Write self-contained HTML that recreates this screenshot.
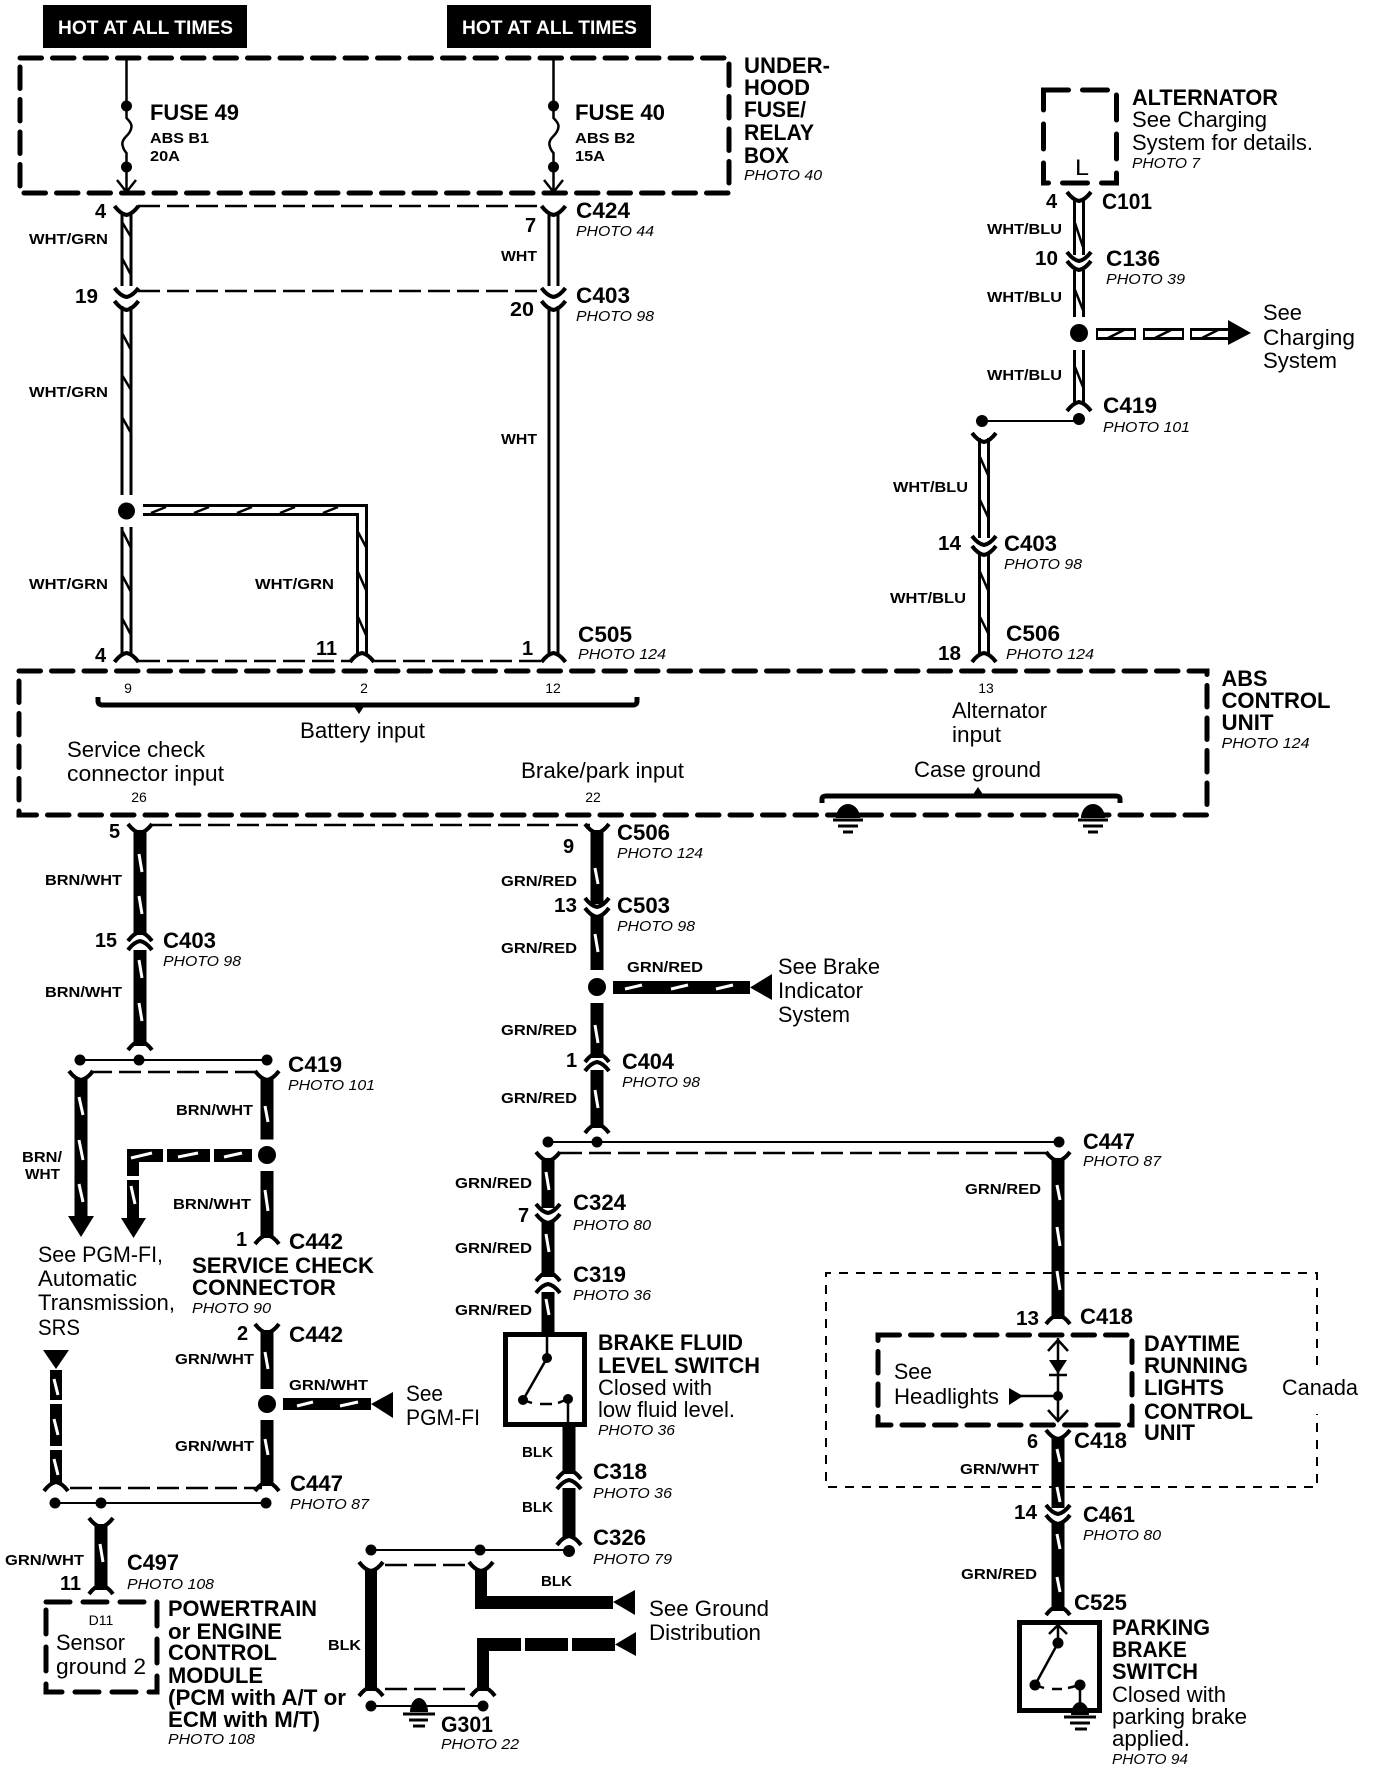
<!DOCTYPE html>
<html><head><meta charset="utf-8"><style>
html,body{margin:0;padding:0;background:#fff}
svg{display:block}
text{font-family:"Liberation Sans",sans-serif;fill:#000}
.b{font-weight:700;font-size:22px}
.r{font-size:22px}
.p{font-style:italic;font-size:15px}
.l{font-weight:700;font-size:15px}
.n{font-weight:700;font-size:20px}
.s{font-size:14px;text-anchor:middle}
.h{font-weight:700;font-size:19px;fill:#fff}
.f,.q,.db,.th,.dt,.g,.sl,.hw{fill:none;stroke:#000}
.f{stroke-width:4}
.q{stroke-width:2.5}
.db{stroke-width:5;stroke-dasharray:21.500 11;stroke-linecap:round}
.th{stroke-width:2}
.dt{stroke-width:2.500;stroke-dasharray:22 7}
.sl{stroke:#fff;stroke-width:3}
.w1{fill:none;stroke:#000;stroke-width:12}
.w2{fill:none;stroke:#fff;stroke-width:6}
.w3{fill:none;stroke:#000;stroke-width:13}
</style></head><body>
<svg xmlns="http://www.w3.org/2000/svg" width="1376" height="1772" viewBox="0 0 1376 1772">
<defs>
<path id="y" class="f" d="M-12 0Q-6 8 0 9Q6 8 12 0"/>
<path id="a" class="f" d="M-12 9Q-6 1 0 0Q6 1 12 9"/>
</defs>

<!-- Hot at all times -->
<rect x="43" y="5" width="204" height="43"/>
<rect x="447" y="5" width="204" height="43"/>
<text class="h" x="58" y="34" textLength="175" lengthAdjust="spacingAndGlyphs">HOT AT ALL TIMES</text>
<text class="h" x="462" y="34" textLength="175" lengthAdjust="spacingAndGlyphs">HOT AT ALL TIMES</text>

<!-- Under-hood box -->
<rect class="db" x="20" y="58" width="709" height="135"/>
<path class="q" d="M126.500 58V118q5 5 5 8q0 5-5 10q-5 5-4 9q1 5 4 8V191M117 180l9.500 12 9.500-12"/>
<path class="q" d="M553.500 58V118q5 5 5 8q0 5-5 10q-5 5-4 9q1 5 4 8V191M544 180l9.500 12 9.500-12"/>
<circle cx="126.500" cy="106" r="5.500"/><circle cx="126.500" cy="167" r="5.500"/>
<circle cx="553.500" cy="106" r="5.500"/><circle cx="553.500" cy="167" r="5.500"/>
<text class="b" x="150" y="120" textLength="89" lengthAdjust="spacingAndGlyphs">FUSE 49</text>
<text class="l" x="150" y="143" textLength="59" lengthAdjust="spacingAndGlyphs">ABS B1</text>
<text class="l" x="150" y="161" textLength="30" lengthAdjust="spacingAndGlyphs">20A</text>
<text class="b" x="575" y="120" textLength="90" lengthAdjust="spacingAndGlyphs">FUSE 40</text>
<text class="l" x="575" y="143" textLength="60" lengthAdjust="spacingAndGlyphs">ABS B2</text>
<text class="l" x="575" y="161" textLength="30" lengthAdjust="spacingAndGlyphs">15A</text>
<text class="b" x="744" y="73" textLength="86" lengthAdjust="spacingAndGlyphs">UNDER-</text>
<text class="b" x="744" y="95" textLength="66" lengthAdjust="spacingAndGlyphs">HOOD</text>
<text class="b" x="744" y="117" textLength="62" lengthAdjust="spacingAndGlyphs">FUSE/</text>
<text class="b" x="744" y="140" textLength="70" lengthAdjust="spacingAndGlyphs">RELAY</text>
<text class="b" x="744" y="163" textLength="45" lengthAdjust="spacingAndGlyphs">BOX</text>
<text class="p" x="744" y="180" textLength="78" lengthAdjust="spacingAndGlyphs">PHOTO 40</text>

<!-- WHT/GRN wire & branch -->
<path class="w1" d="M126.500 212V286M126.500 306V495M126.500 527V655"/>
<path class="w2" d="M126.500 212V286M126.500 306V495M126.500 527V655"/>
<path class="q" d="M122 222L131 237M122 258L131 275M122 333L131 350M122 375L131 390M122 417L131 433M122 530L131 548M122 575L131 592M122 618L131 635"/>
<path class="w1" d="M143 510H362V655"/>
<path class="w2" d="M143 510H362V655"/>
<path class="q" d="M151 513L166 507M194 513L209 507M237 513L252 507M280 513L295 507M323 513L338 507M358 532L366 547M358 572L366 590M358 617L366 635"/>
<circle cx="126.500" cy="511" r="8.500"/>
<!-- WHT wire -->
<path class="w1" d="M553.500 212V286M553.500 306V655"/>
<path class="w2" d="M553.500 212V286M553.500 306V655"/>
<use href="#y" x="126.500" y="206"/><use href="#y" x="553.500" y="206"/>
<use href="#y" x="126.500" y="288"/><use href="#y" x="553.500" y="288"/>
<use href="#y" x="126.500" y="301"/><use href="#y" x="553.500" y="301"/>
<use href="#a" x="126.500" y="653"/><use href="#a" x="362" y="653"/><use href="#a" x="553.500" y="653"/>
<path class="dt" d="M138 206H542M138 291H543M138 661H350M374 661H542"/>
<text class="n" x="95" y="218">4</text>
<text class="n" x="75" y="303" textLength="23" lengthAdjust="spacingAndGlyphs">19</text>
<text class="n" x="525" y="232">7</text>
<text class="n" x="510" y="316" textLength="24" lengthAdjust="spacingAndGlyphs">20</text>
<text class="b" x="576" y="218" textLength="54" lengthAdjust="spacingAndGlyphs">C424</text>
<text class="p" x="576" y="236" textLength="78" lengthAdjust="spacingAndGlyphs">PHOTO 44</text>
<text class="b" x="576" y="303" textLength="54" lengthAdjust="spacingAndGlyphs">C403</text>
<text class="p" x="576" y="321" textLength="78" lengthAdjust="spacingAndGlyphs">PHOTO 98</text>
<text class="l" x="29" y="244" textLength="79" lengthAdjust="spacingAndGlyphs">WHT/GRN</text>
<text class="l" x="29" y="397" textLength="79" lengthAdjust="spacingAndGlyphs">WHT/GRN</text>
<text class="l" x="29" y="589" textLength="79" lengthAdjust="spacingAndGlyphs">WHT/GRN</text>
<text class="l" x="255" y="589" textLength="79" lengthAdjust="spacingAndGlyphs">WHT/GRN</text>
<text class="l" x="501" y="261" textLength="36" lengthAdjust="spacingAndGlyphs">WHT</text>
<text class="l" x="501" y="444" textLength="36" lengthAdjust="spacingAndGlyphs">WHT</text>
<text class="n" x="95" y="662">4</text>
<text class="n" x="316" y="655" font-size="21" textLength="21" lengthAdjust="spacingAndGlyphs">11</text>
<text class="n" x="522" y="655">1</text>
<text class="b" x="578" y="642" textLength="54" lengthAdjust="spacingAndGlyphs">C505</text>
<text class="p" x="578" y="659" textLength="88" lengthAdjust="spacingAndGlyphs">PHOTO 124</text>

<!-- Alternator -->
<rect class="db" x="1043.500" y="90" width="73" height="93" style="stroke-dasharray:25 14"/>
<text class="r" x="1075" y="175" textLength="14" lengthAdjust="spacingAndGlyphs">L</text>
<text class="b" x="1132" y="105" textLength="146" lengthAdjust="spacingAndGlyphs">ALTERNATOR</text>
<text class="r" x="1132" y="127" textLength="135" lengthAdjust="spacingAndGlyphs">See Charging</text>
<text class="r" x="1132" y="150" textLength="181" lengthAdjust="spacingAndGlyphs">System for details.</text>
<text class="p" x="1132" y="168" textLength="68" lengthAdjust="spacingAndGlyphs">PHOTO 7</text>
<path class="w1" d="M1079 198V255M1079 270V317M1079 350V405"/>
<path class="w2" d="M1079 198V255M1079 270V317M1079 350V405"/>
<path class="q" d="M1075 223L1083 247M1075 290L1083 310M1075 367L1083 387"/>
<use href="#y" x="1079" y="192"/><use href="#y" x="1079" y="252"/><use href="#y" x="1079" y="261"/><use href="#a" x="1079" y="402"/>
<circle cx="1079" cy="333" r="9"/>
<circle cx="1079" cy="419" r="6"/><circle cx="982" cy="421" r="6"/>
<path class="th" d="M982 421H1079"/>
<path d="M1096 328H1136V340H1096ZM1143 328H1184V340H1143ZM1190 328H1228V340H1190Z"/>
<path d="M1098 331H1134V337H1098ZM1145 331H1182V337H1145ZM1192 331H1228V337H1192Z" fill="#fff"/>
<path class="q" d="M1108 338L1124 330M1155 338L1171 330M1202 338L1218 330"/>
<path d="M1228 320L1251 333L1228 345Z"/>
<text class="n" x="1046" y="208">4</text>
<text class="n" x="1035" y="265" textLength="23" lengthAdjust="spacingAndGlyphs">10</text>
<text class="b" x="1102" y="209" textLength="50" lengthAdjust="spacingAndGlyphs">C101</text>
<text class="b" x="1106" y="266" textLength="54" lengthAdjust="spacingAndGlyphs">C136</text>
<text class="p" x="1106" y="284" textLength="79" lengthAdjust="spacingAndGlyphs">PHOTO 39</text>
<text class="b" x="1103" y="413" textLength="54" lengthAdjust="spacingAndGlyphs">C419</text>
<text class="p" x="1103" y="432" textLength="87" lengthAdjust="spacingAndGlyphs">PHOTO 101</text>
<text class="l" x="987" y="234" textLength="75" lengthAdjust="spacingAndGlyphs">WHT/BLU</text>
<text class="l" x="987" y="302" textLength="75" lengthAdjust="spacingAndGlyphs">WHT/BLU</text>
<text class="l" x="987" y="380" textLength="75" lengthAdjust="spacingAndGlyphs">WHT/BLU</text>
<text class="r" x="1263" y="320" textLength="39" lengthAdjust="spacingAndGlyphs">See</text>
<text class="r" x="1263" y="345" textLength="92" lengthAdjust="spacingAndGlyphs">Charging</text>
<text class="r" x="1263" y="368" textLength="74" lengthAdjust="spacingAndGlyphs">System</text>
<path class="w1" d="M984 438V538M984 552V655"/>
<path class="w2" d="M984 438V538M984 552V655"/>
<path class="q" d="M980 457L988 475M980 500L988 517M980 572L988 590M980 617L988 633"/>
<use href="#y" x="984" y="433"/><use href="#y" x="984" y="536"/><use href="#y" x="984" y="546"/><use href="#a" x="984" y="653"/>
<text class="l" x="893" y="492" textLength="75" lengthAdjust="spacingAndGlyphs">WHT/BLU</text>
<text class="l" x="890" y="603" textLength="76" lengthAdjust="spacingAndGlyphs">WHT/BLU</text>
<text class="n" x="938" y="550" textLength="23" lengthAdjust="spacingAndGlyphs">14</text>
<text class="n" x="938" y="660" textLength="23" lengthAdjust="spacingAndGlyphs">18</text>
<text class="b" x="1004" y="551" textLength="53" lengthAdjust="spacingAndGlyphs">C403</text>
<text class="p" x="1004" y="569" textLength="78" lengthAdjust="spacingAndGlyphs">PHOTO 98</text>
<text class="b" x="1006" y="641" textLength="54" lengthAdjust="spacingAndGlyphs">C506</text>
<text class="p" x="1006" y="659" textLength="88" lengthAdjust="spacingAndGlyphs">PHOTO 124</text>

<!-- ABS box -->
<rect class="db" x="19" y="671" width="1188" height="144"/>
<text class="s" x="128" y="693">9</text>
<text class="s" x="364" y="693">2</text>
<text class="s" x="553" y="693">12</text>
<text class="s" x="986" y="693">13</text>
<text class="s" x="139" y="802">26</text>
<text class="s" x="593" y="802">22</text>
<path class="f" d="M98 697V701Q98 705 103 705H633Q637 705 637 701V697" style="stroke-width:5"/>
<path d="M353 705L365 705L359 714Z"/>
<text class="r" x="300" y="738" textLength="125" lengthAdjust="spacingAndGlyphs">Battery input</text>
<text class="r" x="67" y="757" textLength="138" lengthAdjust="spacingAndGlyphs">Service check</text>
<text class="r" x="67" y="781" textLength="157" lengthAdjust="spacingAndGlyphs">connector input</text>
<text class="r" x="521" y="778" textLength="163" lengthAdjust="spacingAndGlyphs">Brake/park input</text>
<text class="r" x="952" y="718" textLength="95" lengthAdjust="spacingAndGlyphs">Alternator</text>
<text class="r" x="952" y="742" textLength="49" lengthAdjust="spacingAndGlyphs">input</text>
<text class="r" x="914" y="777" textLength="127" lengthAdjust="spacingAndGlyphs">Case ground</text>
<path class="f" d="M822 803V799Q822 796 826 796H1116Q1120 796 1120 799V803" style="stroke-width:5"/>
<path d="M972 796L978 787L984 796Z"/>
<path d="M836 818A12 14 0 0 1 860 818Z"/><path d="M1081 818A12 14 0 0 1 1105 818Z"/>
<path class="th" style="stroke-width:3" d="M833 820H863M838 826H858M843 832H853M1078 820H1108M1083 826H1103M1088 832H1098"/>
<text class="b" x="1221.500" y="686" textLength="46" lengthAdjust="spacingAndGlyphs">ABS</text>
<text class="b" x="1221.500" y="708" textLength="109" lengthAdjust="spacingAndGlyphs">CONTROL</text>
<text class="b" x="1221.500" y="730" textLength="52" lengthAdjust="spacingAndGlyphs">UNIT</text>
<text class="p" x="1221.500" y="748" textLength="88" lengthAdjust="spacingAndGlyphs">PHOTO 124</text>

<!-- BRN/WHT -->
<path class="w3" d="M140 830V935M140 950V1046"/>
<path class="sl" d="M139 854L142 872M139 896L142 914M139 960L142 978M139 1003L142 1021"/>
<use href="#y" x="140" y="824"/><use href="#a" x="140" y="932"/><use href="#a" x="140" y="941"/><use href="#a" x="140" y="1041"/>
<path class="dt" d="M150 825H590M90 1072H256"/>
<path class="th" d="M80 1060H267"/>
<circle cx="80" cy="1060" r="5.500"/><circle cx="139" cy="1060" r="5.500"/><circle cx="267" cy="1060" r="5.500"/>
<use href="#y" x="81" y="1071"/><use href="#y" x="267" y="1071"/>
<path class="w3" d="M81 1078V1218M267 1078V1139.500M267 1171V1238"/>
<path d="M68 1216H94L81 1237ZM121 1218H146L133.500 1238Z"/>
<circle cx="267" cy="1155" r="9"/>
<path d="M214 1149H252V1162H214ZM167 1149H210V1162H167ZM127 1149H163V1162H139V1176H127ZM127 1180H139V1218H127Z"/>
<path class="sl" d="M79 1097L83 1115M79 1140L83 1160M79 1184L83 1202M265 1106L268 1122M265 1190L268 1211M224 1157L242 1153M178 1157L198 1153M131 1158L152 1153M131 1186L135 1204"/>
<use href="#a" x="267" y="1235"/>
<text class="n" x="109" y="838">5</text>
<text class="n" x="95" y="947" textLength="22" lengthAdjust="spacingAndGlyphs">15</text>
<text class="b" x="163" y="948" textLength="53" lengthAdjust="spacingAndGlyphs">C403</text>
<text class="p" x="163" y="966" textLength="78" lengthAdjust="spacingAndGlyphs">PHOTO 98</text>
<text class="l" x="45" y="885" textLength="77" lengthAdjust="spacingAndGlyphs">BRN/WHT</text>
<text class="l" x="45" y="997" textLength="77" lengthAdjust="spacingAndGlyphs">BRN/WHT</text>
<text class="b" x="288" y="1072" textLength="54" lengthAdjust="spacingAndGlyphs">C419</text>
<text class="p" x="288" y="1090" textLength="87" lengthAdjust="spacingAndGlyphs">PHOTO 101</text>
<text class="l" x="22" y="1162" textLength="40" lengthAdjust="spacingAndGlyphs">BRN/</text>
<text class="l" x="25" y="1179" textLength="35" lengthAdjust="spacingAndGlyphs">WHT</text>
<text class="l" x="176" y="1115" textLength="77" lengthAdjust="spacingAndGlyphs">BRN/WHT</text>
<text class="l" x="173" y="1209" textLength="78" lengthAdjust="spacingAndGlyphs">BRN/WHT</text>
<text class="r" x="38" y="1262" textLength="125" lengthAdjust="spacingAndGlyphs">See PGM-FI,</text>
<text class="r" x="38" y="1286" textLength="99" lengthAdjust="spacingAndGlyphs">Automatic</text>
<text class="r" x="38" y="1310" textLength="137" lengthAdjust="spacingAndGlyphs">Transmission,</text>
<text class="r" x="38" y="1335" textLength="42" lengthAdjust="spacingAndGlyphs">SRS</text>
<text class="n" x="236" y="1246">1</text>
<text class="b" x="289" y="1249" textLength="54" lengthAdjust="spacingAndGlyphs">C442</text>
<text class="b" x="192" y="1273" textLength="182" lengthAdjust="spacingAndGlyphs">SERVICE CHECK</text>
<text class="b" x="192" y="1295" textLength="144" lengthAdjust="spacingAndGlyphs">CONNECTOR</text>
<text class="p" x="192" y="1313" textLength="79" lengthAdjust="spacingAndGlyphs">PHOTO 90</text>
<text class="n" x="237" y="1340">2</text>
<text class="b" x="289" y="1342" textLength="54" lengthAdjust="spacingAndGlyphs">C442</text>

<!-- GRN/WHT left -->
<use href="#y" x="267" y="1324"/>
<path class="w3" d="M267 1330V1389M267 1420V1486"/>
<circle cx="267" cy="1404" r="9"/>
<use href="#a" x="267" y="1482"/>
<path d="M283 1398H371V1410H283ZM371 1404L393 1392V1418Z"/>
<path class="sl" d="M265 1352L268 1369M265 1439L268 1455M297 1406L313 1402M340 1406L358 1402"/>
<path d="M43 1350H69L56 1369ZM50 1370H62V1400H50ZM50 1404H62V1446H50ZM50 1450H62V1484H50Z"/>
<path class="sl" d="M54 1379L58 1395M54 1419L58 1435M54 1459L58 1475"/>
<use href="#a" x="56" y="1482"/>
<path class="dt" d="M70 1488H262"/>
<path class="th" d="M55 1503H266"/>
<circle cx="55" cy="1503" r="5.500"/><circle cx="101" cy="1503" r="5.500"/><circle cx="266" cy="1503" r="5.500"/>
<use href="#y" x="101" y="1518"/>
<path class="w3" d="M101 1524V1590"/>
<use href="#a" x="101" y="1585"/>
<path class="sl" d="M100 1544L103 1562"/>
<text class="l" x="175" y="1364" textLength="79" lengthAdjust="spacingAndGlyphs">GRN/WHT</text>
<text class="l" x="175" y="1451" textLength="79" lengthAdjust="spacingAndGlyphs">GRN/WHT</text>
<text class="l" x="289" y="1390" textLength="79" lengthAdjust="spacingAndGlyphs">GRN/WHT</text>
<text class="r" x="406" y="1401" textLength="37" lengthAdjust="spacingAndGlyphs">See</text>
<text class="r" x="406" y="1425" textLength="74" lengthAdjust="spacingAndGlyphs">PGM-FI</text>
<text class="b" x="290" y="1491" textLength="53" lengthAdjust="spacingAndGlyphs">C447</text>
<text class="p" x="290" y="1509" textLength="79" lengthAdjust="spacingAndGlyphs">PHOTO 87</text>
<text class="l" x="5" y="1565" textLength="79" lengthAdjust="spacingAndGlyphs">GRN/WHT</text>
<text class="n" x="60" y="1590" textLength="21" lengthAdjust="spacingAndGlyphs">11</text>
<text class="b" x="127" y="1570" textLength="52" lengthAdjust="spacingAndGlyphs">C497</text>
<text class="p" x="127" y="1589" textLength="87" lengthAdjust="spacingAndGlyphs">PHOTO 108</text>
<rect class="db" x="46" y="1602" width="111" height="90" style="stroke-dasharray:24 13"/>
<text class="s" x="101" y="1625">D11</text>
<text class="r" x="56" y="1650" textLength="69" lengthAdjust="spacingAndGlyphs">Sensor</text>
<text class="r" x="56" y="1674" textLength="90" lengthAdjust="spacingAndGlyphs">ground 2</text>
<text class="b" x="168" y="1616" textLength="149" lengthAdjust="spacingAndGlyphs">POWERTRAIN</text>
<text class="b" x="168" y="1639" textLength="114" lengthAdjust="spacingAndGlyphs">or ENGINE</text>
<text class="b" x="168" y="1660" textLength="109" lengthAdjust="spacingAndGlyphs">CONTROL</text>
<text class="b" x="168" y="1683" textLength="95" lengthAdjust="spacingAndGlyphs">MODULE</text>
<text class="b" x="168" y="1705" textLength="178" lengthAdjust="spacingAndGlyphs">(PCM with A/T or</text>
<text class="b" x="168" y="1727" textLength="152" lengthAdjust="spacingAndGlyphs">ECM with M/T)</text>
<text class="p" x="168" y="1744" textLength="87" lengthAdjust="spacingAndGlyphs">PHOTO 108</text>

<!-- GRN/RED center -->
<use href="#y" x="597" y="824"/>
<path class="w3" d="M597 830V904M597 915V970M597 1003V1058M597 1070V1128"/>
<use href="#y" x="597" y="898"/><use href="#y" x="597" y="908"/>
<circle cx="597" cy="987" r="9"/>
<path d="M613 981H750V994H613ZM750 987.500L772 974V1000Z"/>
<path class="sl" d="M595 868L598 884M595 934L598 952M595 1025L598 1043M595 1090L598 1108M625 989L642 985M671 989L688 985M716 989L733 985"/>
<use href="#a" x="597" y="1053"/><use href="#a" x="597" y="1062"/><use href="#a" x="597" y="1124"/>
<text class="n" x="563" y="853">9</text>
<text class="n" x="554" y="912" textLength="23" lengthAdjust="spacingAndGlyphs">13</text>
<text class="n" x="566" y="1067">1</text>
<text class="b" x="617" y="840" textLength="53" lengthAdjust="spacingAndGlyphs">C506</text>
<text class="p" x="617" y="858" textLength="86" lengthAdjust="spacingAndGlyphs">PHOTO 124</text>
<text class="b" x="617" y="913" textLength="53" lengthAdjust="spacingAndGlyphs">C503</text>
<text class="p" x="617" y="931" textLength="78" lengthAdjust="spacingAndGlyphs">PHOTO 98</text>
<text class="b" x="622" y="1069" textLength="52" lengthAdjust="spacingAndGlyphs">C404</text>
<text class="p" x="622" y="1087" textLength="78" lengthAdjust="spacingAndGlyphs">PHOTO 98</text>
<text class="l" x="501" y="886" textLength="76" lengthAdjust="spacingAndGlyphs">GRN/RED</text>
<text class="l" x="501" y="953" textLength="76" lengthAdjust="spacingAndGlyphs">GRN/RED</text>
<text class="l" x="627" y="972" textLength="76" lengthAdjust="spacingAndGlyphs">GRN/RED</text>
<text class="l" x="501" y="1035" textLength="76" lengthAdjust="spacingAndGlyphs">GRN/RED</text>
<text class="l" x="501" y="1103" textLength="76" lengthAdjust="spacingAndGlyphs">GRN/RED</text>
<text class="r" x="778" y="974" textLength="102" lengthAdjust="spacingAndGlyphs">See Brake</text>
<text class="r" x="778" y="998" textLength="85" lengthAdjust="spacingAndGlyphs">Indicator</text>
<text class="r" x="778" y="1022" textLength="72" lengthAdjust="spacingAndGlyphs">System</text>
<path class="th" d="M548 1142H1059"/>
<circle cx="548" cy="1142" r="5.500"/><circle cx="597" cy="1142" r="5.500"/><circle cx="1059" cy="1142" r="5.500"/>
<path class="dt" d="M560 1153H1048"/>

<!-- Brake fluid -->
<use href="#y" x="548" y="1152"/>
<path class="w3" d="M548 1158V1208M548 1222V1277M548 1292V1334"/>
<use href="#y" x="548" y="1204"/><use href="#y" x="548" y="1214"/><use href="#a" x="548" y="1272"/><use href="#a" x="548" y="1284"/>
<path class="sl" d="M546 1172L549 1190M546 1234L549 1252M546 1299L549 1315"/>
<rect x="505.500" y="1334.500" width="79" height="90" fill="#fff" stroke="#000" stroke-width="5"/>
<path class="q" d="M547 1336V1358L523 1400"/>
<path class="q" d="M523 1400L532 1403M540 1404H552M558 1403L568 1399V1428"/>
<circle cx="547" cy="1358" r="5"/><circle cx="523" cy="1400" r="5"/><circle cx="568" cy="1399" r="5"/>
<path class="w3" d="M569 1427V1474M569 1488V1538"/>
<use href="#a" x="569" y="1470"/><use href="#a" x="569" y="1480"/><use href="#a" x="569" y="1536"/>
<circle cx="569" cy="1551" r="6"/>
<path class="th" d="M371 1550H569"/>
<circle cx="371" cy="1550" r="5.500"/><circle cx="480" cy="1550" r="5.500"/>
<text class="l" x="455" y="1188" textLength="77" lengthAdjust="spacingAndGlyphs">GRN/RED</text>
<text class="l" x="455" y="1253" textLength="77" lengthAdjust="spacingAndGlyphs">GRN/RED</text>
<text class="l" x="455" y="1315" textLength="77" lengthAdjust="spacingAndGlyphs">GRN/RED</text>
<text class="n" x="518" y="1222">7</text>
<text class="b" x="573" y="1210" textLength="53" lengthAdjust="spacingAndGlyphs">C324</text>
<text class="p" x="573" y="1230" textLength="78" lengthAdjust="spacingAndGlyphs">PHOTO 80</text>
<text class="b" x="573" y="1282" textLength="53" lengthAdjust="spacingAndGlyphs">C319</text>
<text class="p" x="573" y="1300" textLength="78" lengthAdjust="spacingAndGlyphs">PHOTO 36</text>
<text class="b" x="598" y="1350" textLength="145" lengthAdjust="spacingAndGlyphs">BRAKE FLUID</text>
<text class="b" x="598" y="1373" textLength="162" lengthAdjust="spacingAndGlyphs">LEVEL SWITCH</text>
<text class="r" x="598" y="1395" textLength="114" lengthAdjust="spacingAndGlyphs">Closed with</text>
<text class="r" x="598" y="1417" textLength="137" lengthAdjust="spacingAndGlyphs">low fluid level.</text>
<text class="p" x="598" y="1435" textLength="77" lengthAdjust="spacingAndGlyphs">PHOTO 36</text>
<text class="l" x="522" y="1457" textLength="31" lengthAdjust="spacingAndGlyphs">BLK</text>
<text class="l" x="522" y="1512" textLength="31" lengthAdjust="spacingAndGlyphs">BLK</text>
<text class="b" x="593" y="1479" textLength="54" lengthAdjust="spacingAndGlyphs">C318</text>
<text class="p" x="593" y="1498" textLength="79" lengthAdjust="spacingAndGlyphs">PHOTO 36</text>
<text class="b" x="593" y="1545" textLength="53" lengthAdjust="spacingAndGlyphs">C326</text>
<text class="p" x="593" y="1564" textLength="79" lengthAdjust="spacingAndGlyphs">PHOTO 79</text>

<!-- Ground -->
<use href="#y" x="371" y="1562"/><use href="#y" x="481" y="1562"/>
<path class="dt" d="M385 1565H470M385 1689H470"/>
<path d="M365 1569H377V1691H365ZM475 1569H487V1596H613V1609H475ZM613 1602L635 1590V1615ZM477 1638H521V1651H489V1691H477ZM525 1638H568V1651H525ZM572 1638H615V1651H572ZM615 1644.500L636 1632V1656Z"/>
<use href="#a" x="371" y="1687"/><use href="#a" x="483" y="1687"/>
<path class="th" d="M371 1706H483"/>
<circle cx="371" cy="1706" r="5.500"/><circle cx="483" cy="1706" r="5.500"/>
<path d="M410 1712A9 14 0 0 1 428 1712Z"/>
<path class="th" style="stroke-width:3" d="M403 1714H435M409 1720H428M413 1726H425"/>
<text class="l" x="541" y="1586" textLength="31" lengthAdjust="spacingAndGlyphs">BLK</text>
<text class="l" x="328" y="1650" textLength="33" lengthAdjust="spacingAndGlyphs">BLK</text>
<text class="b" x="441" y="1732" textLength="52" lengthAdjust="spacingAndGlyphs">G301</text>
<text class="p" x="441" y="1749" textLength="78" lengthAdjust="spacingAndGlyphs">PHOTO 22</text>
<text class="r" x="649" y="1616" textLength="120" lengthAdjust="spacingAndGlyphs">See Ground</text>
<text class="r" x="649" y="1640" textLength="112" lengthAdjust="spacingAndGlyphs">Distribution</text>

<!-- Canada -->
<path fill="none" stroke="#000" stroke-width="2" stroke-dasharray="9 8" d="M1317 1365V1273H826V1487H1317V1414"/>
<use href="#y" x="1058" y="1152"/>
<path class="w3" d="M1058 1158V1319M1058 1438V1508M1058 1522V1611"/>
<path class="sl" d="M1057 1185L1060 1200M1057 1227L1060 1246M1057 1271L1060 1290M1057 1449L1060 1462M1057 1487L1060 1502M1057 1534L1060 1549M1057 1577L1060 1592"/>
<use href="#a" x="1058" y="1315"/><use href="#y" x="1058" y="1430"/><use href="#y" x="1058" y="1505"/><use href="#y" x="1058" y="1515"/><use href="#a" x="1058" y="1606"/>
<rect class="db" x="878" y="1335" width="254" height="90"/>
<path class="q" d="M1058 1338V1421M1048 1351L1058 1340L1068 1351M1048 1410L1058 1421L1068 1410M1020 1396H1058M1049 1375H1067"/>
<path d="M1049 1360H1067L1058 1374Z"/>
<circle cx="1058" cy="1396" r="5"/>
<path d="M1009 1388L1023 1396L1009 1405Z"/>
<text class="n" x="1016" y="1325" textLength="23" lengthAdjust="spacingAndGlyphs">13</text>
<text class="b" x="1080" y="1324" textLength="53" lengthAdjust="spacingAndGlyphs">C418</text>
<text class="b" x="1083" y="1149" textLength="52" lengthAdjust="spacingAndGlyphs">C447</text>
<text class="p" x="1083" y="1166" textLength="78" lengthAdjust="spacingAndGlyphs">PHOTO 87</text>
<text class="l" x="965" y="1194" textLength="76" lengthAdjust="spacingAndGlyphs">GRN/RED</text>
<text class="r" x="894" y="1379" textLength="38" lengthAdjust="spacingAndGlyphs">See</text>
<text class="r" x="894" y="1404" textLength="105" lengthAdjust="spacingAndGlyphs">Headlights</text>
<text class="b" x="1144" y="1351" textLength="96" lengthAdjust="spacingAndGlyphs">DAYTIME</text>
<text class="b" x="1144" y="1373" textLength="104" lengthAdjust="spacingAndGlyphs">RUNNING</text>
<text class="b" x="1144" y="1395" textLength="80" lengthAdjust="spacingAndGlyphs">LIGHTS</text>
<text class="b" x="1144" y="1419" textLength="109" lengthAdjust="spacingAndGlyphs">CONTROL</text>
<text class="b" x="1144" y="1440" textLength="51" lengthAdjust="spacingAndGlyphs">UNIT</text>
<text class="r" x="1282" y="1395" textLength="76" lengthAdjust="spacingAndGlyphs">Canada</text>
<text class="n" x="1027" y="1448">6</text>
<text class="b" x="1074" y="1448" textLength="53" lengthAdjust="spacingAndGlyphs">C418</text>
<text class="l" x="960" y="1474" textLength="79" lengthAdjust="spacingAndGlyphs">GRN/WHT</text>
<text class="n" x="1014" y="1519" textLength="23" lengthAdjust="spacingAndGlyphs">14</text>
<text class="b" x="1083" y="1522" textLength="52" lengthAdjust="spacingAndGlyphs">C461</text>
<text class="p" x="1083" y="1540" textLength="78" lengthAdjust="spacingAndGlyphs">PHOTO 80</text>
<text class="l" x="961" y="1579" textLength="76" lengthAdjust="spacingAndGlyphs">GRN/RED</text>
<text class="b" x="1074" y="1610" textLength="53" lengthAdjust="spacingAndGlyphs">C525</text>

<!-- Parking brake -->
<rect x="1019.500" y="1622.500" width="80" height="88" fill="#fff" stroke="#000" stroke-width="5"/>
<path class="q" d="M1058 1625V1643L1035 1685M1049 1634L1058 1625L1067 1634M1035 1685L1044 1688M1052 1689H1062M1068 1688L1080 1685V1703"/>
<circle cx="1058" cy="1643" r="5.500"/><circle cx="1035" cy="1685" r="5.500"/><circle cx="1080" cy="1685" r="5.500"/>
<path d="M1071 1715A9 13 0 0 1 1089 1715Z"/>
<path class="th" style="stroke-width:3" d="M1064 1717H1096M1070 1723H1090M1075 1729H1087"/>
<text class="b" x="1112" y="1635" textLength="98" lengthAdjust="spacingAndGlyphs">PARKING</text>
<text class="b" x="1112" y="1657" textLength="75" lengthAdjust="spacingAndGlyphs">BRAKE</text>
<text class="b" x="1112" y="1679" textLength="86" lengthAdjust="spacingAndGlyphs">SWITCH</text>
<text class="r" x="1112" y="1702" textLength="114" lengthAdjust="spacingAndGlyphs">Closed with</text>
<text class="r" x="1112" y="1724" textLength="135" lengthAdjust="spacingAndGlyphs">parking brake</text>
<text class="r" x="1112" y="1746" textLength="78" lengthAdjust="spacingAndGlyphs">applied.</text>
<text class="p" x="1112" y="1764" textLength="76" lengthAdjust="spacingAndGlyphs">PHOTO 94</text>
</svg>
</body></html>
